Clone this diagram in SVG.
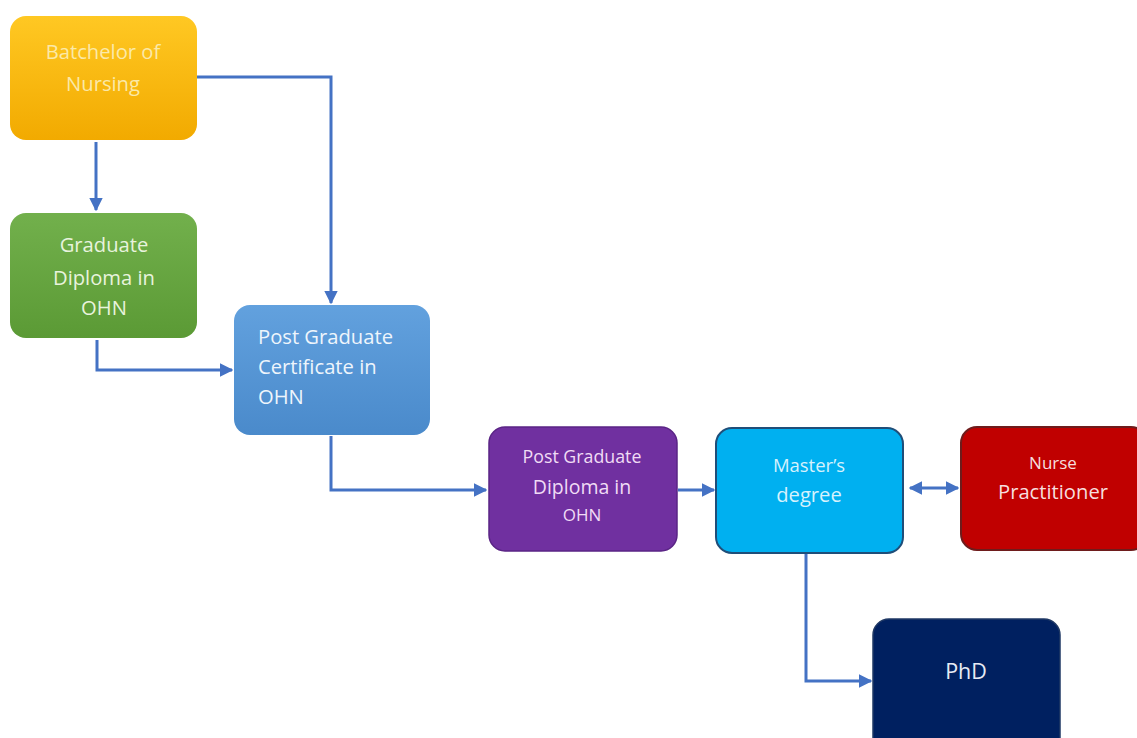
<svg xmlns="http://www.w3.org/2000/svg" width="1137" height="738" viewBox="0 0 1137 738">
<defs>
<linearGradient id="gY" x1="0" y1="0" x2="0" y2="1"><stop offset="0" stop-color="#ffc823"/><stop offset="1" stop-color="#f2aa00"/></linearGradient>
<linearGradient id="gG" x1="0" y1="0" x2="0" y2="1"><stop offset="0" stop-color="#72b04c"/><stop offset="1" stop-color="#5b9a35"/></linearGradient>
<linearGradient id="gB" x1="0" y1="0" x2="0" y2="1"><stop offset="0" stop-color="#62a1de"/><stop offset="1" stop-color="#4a8acb"/></linearGradient>
<marker id="ah" viewBox="0 0 10 10" refX="9" refY="5" markerWidth="4.5" markerHeight="4.5" orient="auto-start-reverse"><path d="M0,0 L10,5 L0,10 z" fill="#4472c4"/></marker>
<style>
.c{fill:none;stroke:#4472c4;stroke-width:3;marker-end:url(#ah)}
.t{font-family:"Open Sans","Liberation Sans",sans-serif;font-size:20.2px;text-anchor:middle}
</style>
</defs>
<rect width="1137" height="738" fill="#ffffff"/>
<g id="connectors">
<path class="c" d="M96,142 V210"/>
<path class="c" d="M197,77 H331 V303"/>
<path class="c" d="M97,340 V370 H232"/>
<path class="c" d="M331,436 V490 H486"/>
<path class="c" d="M678,490 H714"/>
<path class="c" d="M910,488 H958" style="marker-start:url(#ah)"/>
<path class="c" d="M806,554 V681 H871"/>
</g>
<g id="bachelor">
<rect x="10" y="16" width="187" height="124" rx="16" fill="url(#gY)"/>
<text class="t" x="103" y="59" fill="#fbe9a8">Batchelor of</text>
<text class="t" x="103" y="91" fill="#fbe9a8">Nursing</text>
</g>
<g id="graddiploma">
<rect x="10" y="213" width="187" height="125" rx="16" fill="url(#gG)"/>
<text class="t" x="104" y="252" fill="#e8f3dd">Graduate</text>
<text class="t" x="104" y="285" fill="#e8f3dd">Diploma in</text>
<text class="t" x="104" y="315" fill="#e8f3dd">OHN</text>
</g>
<g id="pgcert">
<rect x="234" y="305" width="196" height="130" rx="16" fill="url(#gB)"/>
<text class="t" x="258" y="344" fill="#eef5fc" style="text-anchor:start">Post Graduate</text>
<text class="t" x="258" y="374" fill="#eef5fc" style="text-anchor:start">Certificate in</text>
<text class="t" x="258" y="404" fill="#eef5fc" style="text-anchor:start">OHN</text>
</g>
<g id="pgdiploma">
<rect x="489" y="427" width="188" height="124" rx="16" fill="#7030a0" stroke="#5a2485" stroke-width="1.5"/>
<text class="t" x="582" y="463" fill="#f0dcf5" style="font-size:17.8px">Post Graduate</text>
<text class="t" x="582" y="494" fill="#f0dcf5" style="font-size:19.5px">Diploma in</text>
<text class="t" x="582" y="521" fill="#f0dcf5" style="font-size:17px">OHN</text>
</g>
<g id="masters">
<rect x="716" y="428" width="187" height="125" rx="16" fill="#00b0f0" stroke="#1f4e79" stroke-width="2"/>
<text class="t" x="809" y="472" fill="#d6f2fd" style="font-size:18.5px">Master’s</text>
<text class="t" x="809" y="502" fill="#d6f2fd">degree</text>
</g>
<g id="nurse">
<rect x="961" y="427" width="186" height="123" rx="16" fill="#c00000" stroke="#6e1c1c" stroke-width="2"/>
<text class="t" x="1053" y="469" fill="#f6dede" style="font-size:17px">Nurse</text>
<text class="t" x="1053" y="499" fill="#f6dede">Practitioner</text>
</g>
<g id="phd">
<rect x="873" y="619" width="187" height="135" rx="16" fill="#002060" stroke="#1f3864" stroke-width="1.5"/>
<text class="t" x="966" y="679" fill="#e6ebf5" style="font-size:21.5px">PhD</text>
</g>
</svg>
